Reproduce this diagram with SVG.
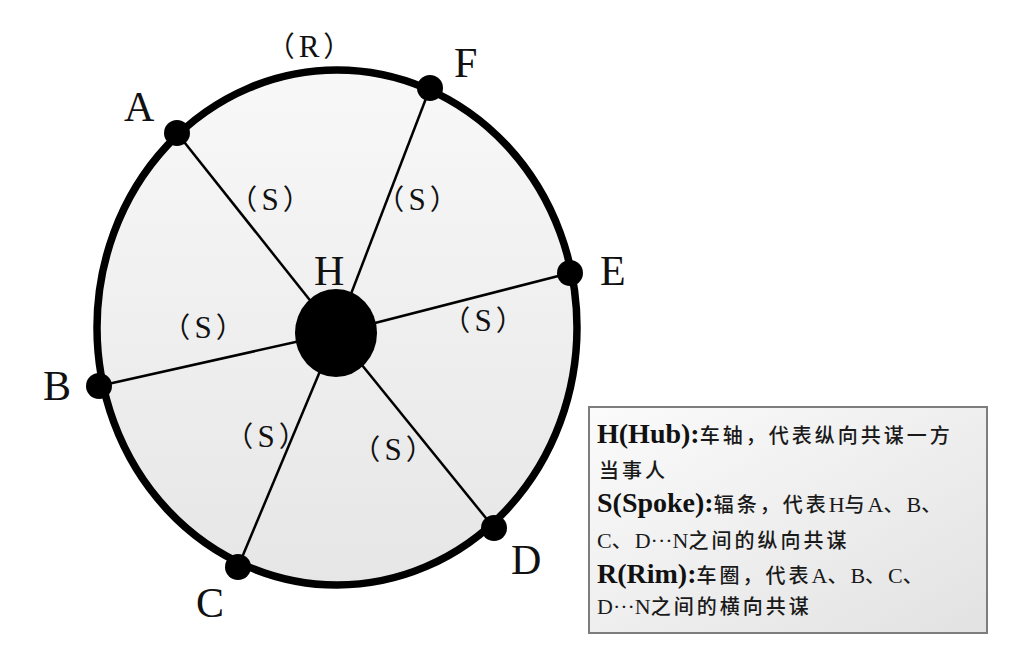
<svg xmlns="http://www.w3.org/2000/svg" width="1036" height="654" viewBox="0 0 1036 654">
  <defs>
    <linearGradient id="wheelFill" x1="0" y1="0" x2="0" y2="1">
      <stop offset="0" stop-color="#f8f8f8"/>
      <stop offset="1" stop-color="#e6e6e6"/>
    </linearGradient>
    <linearGradient id="boxFill" x1="0" y1="0" x2="1" y2="1">
      <stop offset="0" stop-color="#fbfbfb"/>
      <stop offset="1" stop-color="#e2e2e2"/>
    </linearGradient>
  </defs>
  <style>
    .rim { fill: url(#wheelFill); stroke: #000; stroke-width: 7.5; }
    .spoke { stroke: #000; stroke-width: 2.5; fill: none; }
    .dot { fill: #000; }
    .node-label { font-family: "Liberation Serif", "Times New Roman", serif; font-size: 42px; fill: #111; }
    .s-label { font-family: "Noto Sans CJK SC", sans-serif; font-size: 28px; fill: #111; text-anchor: middle; }
    .s-label .ltr { font-family: "Liberation Serif", "Times New Roman", serif; font-size: 31px; }
    .legend-box { fill: url(#boxFill); stroke: #7d7d7d; stroke-width: 2; }
    .lb { font-family: "Liberation Serif", "Times New Roman", serif; font-weight: bold; font-size: 28px; fill: #111; }
    .lt { font-family: "Liberation Serif", "Noto Sans CJK SC", serif; font-size: 20px; font-weight: 500; letter-spacing: 3px; fill: #1a1a1a; }
    .lat { font-size: 22px; font-weight: normal; letter-spacing: 0; }
  </style>

  <g id="rim">
    <ellipse class="rim" cx="337" cy="327.5" rx="240" ry="257.5"/>
  </g>

  <g id="connectors">
    <line class="spoke" x1="336" y1="333" x2="177" y2="133"/>
    <line class="spoke" x1="336" y1="333" x2="430" y2="88"/>
    <line class="spoke" x1="336" y1="333" x2="570" y2="273"/>
    <line class="spoke" x1="336" y1="333" x2="494" y2="528"/>
    <line class="spoke" x1="336" y1="333" x2="238" y2="567"/>
    <line class="spoke" x1="336" y1="333" x2="99" y2="386"/>
  </g>

  <g id="spoke-labels">
    <text class="s-label" x="309" y="57">（<tspan class="ltr" dx="4">R</tspan><tspan dx="4">）</tspan></text>
    <text class="s-label" x="270" y="210">（<tspan class="ltr" dx="4">S</tspan><tspan dx="4">）</tspan></text>
    <text class="s-label" x="417" y="210">（<tspan class="ltr" dx="4">S</tspan><tspan dx="4">）</tspan></text>
    <text class="s-label" x="483" y="331">（<tspan class="ltr" dx="4">S</tspan><tspan dx="4">）</tspan></text>
    <text class="s-label" x="203" y="338">（<tspan class="ltr" dx="4">S</tspan><tspan dx="4">）</tspan></text>
    <text class="s-label" x="266" y="447">（<tspan class="ltr" dx="4">S</tspan><tspan dx="4">）</tspan></text>
    <text class="s-label" x="393" y="460">（<tspan class="ltr" dx="4">S</tspan><tspan dx="4">）</tspan></text>
  </g>

  <g id="node-H">
    <ellipse class="dot" cx="336" cy="333" rx="41" ry="44"/>
    <text class="node-label" x="314" y="285">H</text>
  </g>
  <g id="node-A">
    <circle class="dot" cx="177" cy="133" r="13"/>
    <text class="node-label" x="124" y="121">A</text>
  </g>
  <g id="node-F">
    <circle class="dot" cx="430" cy="88" r="13"/>
    <text class="node-label" x="454" y="77">F</text>
  </g>
  <g id="node-E">
    <circle class="dot" cx="570" cy="273" r="13"/>
    <text class="node-label" x="600" y="285">E</text>
  </g>
  <g id="node-D">
    <circle class="dot" cx="494" cy="528" r="13"/>
    <text class="node-label" x="511" y="574">D</text>
  </g>
  <g id="node-C">
    <circle class="dot" cx="238" cy="567" r="13"/>
    <text class="node-label" x="196" y="617">C</text>
  </g>
  <g id="node-B">
    <circle class="dot" cx="99" cy="386" r="13"/>
    <text class="node-label" x="43" y="400">B</text>
  </g>

  <g id="legend">
    <rect class="legend-box" x="589" y="407" width="398" height="226"/>
    <text x="597" y="443"><tspan class="lb">H(Hub):</tspan><tspan class="lt">车轴，代表纵向共谋一方</tspan></text>
    <text class="lt" x="599" y="478">当事人</text>
    <text x="597" y="512"><tspan class="lb">S(Spoke):</tspan><tspan class="lt">辐条，代表<tspan class="lat">H</tspan>与<tspan class="lat">A</tspan>、<tspan class="lat">B</tspan>、</tspan></text>
    <text class="lt" x="597" y="548"><tspan class="lat">C</tspan>、<tspan class="lat">D···N</tspan>之间的纵向共谋</text>
    <text x="597" y="583"><tspan class="lb">R(Rim):</tspan><tspan class="lt">车圈，代表<tspan class="lat">A</tspan>、<tspan class="lat">B</tspan>、<tspan class="lat">C</tspan>、</tspan></text>
    <text class="lt" x="597" y="614"><tspan class="lat">D···N</tspan>之间的横向共谋</text>
  </g>
</svg>
